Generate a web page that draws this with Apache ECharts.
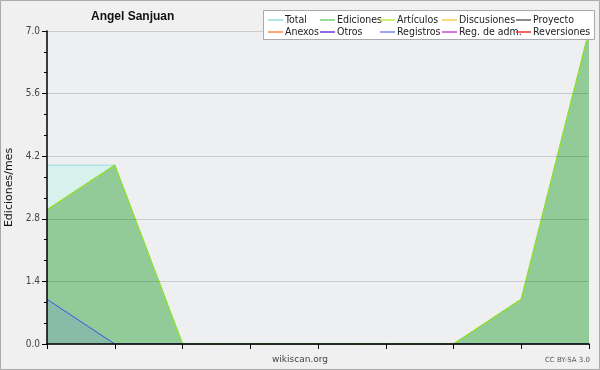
<!DOCTYPE html>
<html><head><meta charset="utf-8">
<script src="https://cdn.jsdelivr.net/npm/echarts@6/dist/echarts.min.js"></script>
<style>html,body{margin:0;padding:0;background:#f0f0f0}#c{width:600px;height:370px}</style>
</head><body><div id="c"></div>
<script>
const months = ['1','2','3','4','5','6','7','8','9'];
const total = [4,4,0,0,0,0,0,1,7];
const ediciones = [3,4,0,0,0,0,0,1,7];
const articulos = [3,4,0,0,0,0,0,1,7];
const registros = [1,0,0,0,0,0,0,0,0];
const yTicks = [0,1.4,2.8,4.2,5.6,7.0];
const legendCols = [['Total','Anexos'],['Ediciones','Otros'],['Artículos','Registros'],['Discusiones','Reg. de adm.'],['Proyecto','Reversiones']];
const colors = {'Total':'#99dddd','Ediciones':'#77cc77','Artículos':'#bbee44','Discusiones':'#ffcc55','Proyecto':'#666666','Anexos':'#ff8844','Otros':'#7733dd','Registros':'#7788ee','Reg. de adm.':'#cc44dd','Reversiones':'#ee3333'};

const chart = echarts.init(document.getElementById('c'));
const font = 'DejaVu Sans';
const narrow = "'Liberation Sans Narrow', 'DejaVu Sans Condensed', sans-serif";
const legendLeft = [268,320,380,442,516];
const emptySeries = ['Discusiones','Proyecto','Anexos','Otros','Reg. de adm.','Reversiones'].map(n=>({
  name:n,type:'line',data:[],symbol:'none',color:colors[n],lineStyle:{color:colors[n],width:1}
}));
chart.setOption({
  animation:false,
  backgroundColor:'#f0f0f0',
  textStyle:{fontFamily:font},
  title:{text:'Angel Sanjuan',left:86,top:6,textStyle:{fontFamily:'Liberation Sans',fontSize:12,fontWeight:'bold',color:'#111'}},
  graphic:[
    {type:'rect',shape:{x:0.5,y:0.5,width:599,height:369},style:{fill:null,stroke:'#aaaaaa',lineWidth:1},silent:true},
    {type:'rect',z:50,shape:{x:263.5,y:10.5,width:331,height:29},style:{fill:'#ffffff',stroke:'#aaaaaa',lineWidth:1},silent:true},
    {type:'text',left:'center',top:355,style:{text:'wikiscan.org',fill:'#444',font:"9px 'DejaVu Sans'"}},
    {type:'text',right:10,top:357,style:{text:'CC BY-SA 3.0',fill:'#555',font:"7px 'DejaVu Sans'"}}
  ],
  legend: legendCols.map((col,i)=>({
    data:col, orient:'vertical', left:legendLeft[i], top:14, itemGap:0, padding:0, z:60,
    icon:'rect', itemWidth:15, itemHeight:1.5,
    textStyle:{fontFamily:narrow,fontSize:10.5,color:'#222',lineHeight:11,padding:[1,0,0,-3]},
    selectedMode:false
  })),
  grid:{left:47,right:11,top:31,bottom:26,show:true,backgroundColor:'#eeeff1',borderWidth:0,containLabel:false,outerBoundsMode:'none'},
  xAxis:{type:'category',data:months,boundaryGap:false,z:10,
    axisLine:{lineStyle:{color:'#000',width:1.5}},
    axisTick:{show:true,length:5,inside:false,lineStyle:{color:'#000'}},
    axisLabel:{show:false},splitLine:{show:false}},
  yAxis:{type:'value',min:0,max:7,interval:1.4,z:10,
    name:'Ediciones/mes',nameLocation:'middle',nameGap:30,nameTextStyle:{fontFamily:font,fontSize:11,color:'#111'},
    axisLine:{show:true,lineStyle:{color:'#000',width:1.5}},
    axisTick:{show:true,length:5,lineStyle:{color:'#000'}},
    minorTick:{show:true,splitNumber:3,length:3,lineStyle:{color:'#000'}},
    axisLabel:{fontFamily:narrow,fontSize:10,color:'#444',margin:7,formatter:v=>v.toFixed(1)},
    splitLine:{show:true,lineStyle:{color:'rgba(0,0,0,0.15)',width:1}}},
  series:[
    {name:'Total',type:'line',data:total,symbol:'none',z:1,color:colors['Total'],
     lineStyle:{color:'#99dddd',width:1},areaStyle:{color:'#d8f1ec',opacity:1}},
    {name:'Ediciones',type:'line',data:ediciones,symbol:'none',z:2,color:colors['Ediciones'],
     lineStyle:{color:'#77cc77',width:1},areaStyle:{color:'#92ca98',opacity:1}},
    {name:'Registros',type:'line',data:registros,symbol:'none',z:3,color:colors['Registros'],
     lineStyle:{color:'#3355ee',width:1},areaStyle:{color:'#6f8fdc',opacity:0.25}},
    {name:'Artículos',type:'line',data:articulos,symbol:'none',z:4,color:colors['Artículos'],
     lineStyle:{color:'#99e61a',width:1.5,type:[2,1]}},
    ...emptySeries
  ]
});
</script></body></html>
